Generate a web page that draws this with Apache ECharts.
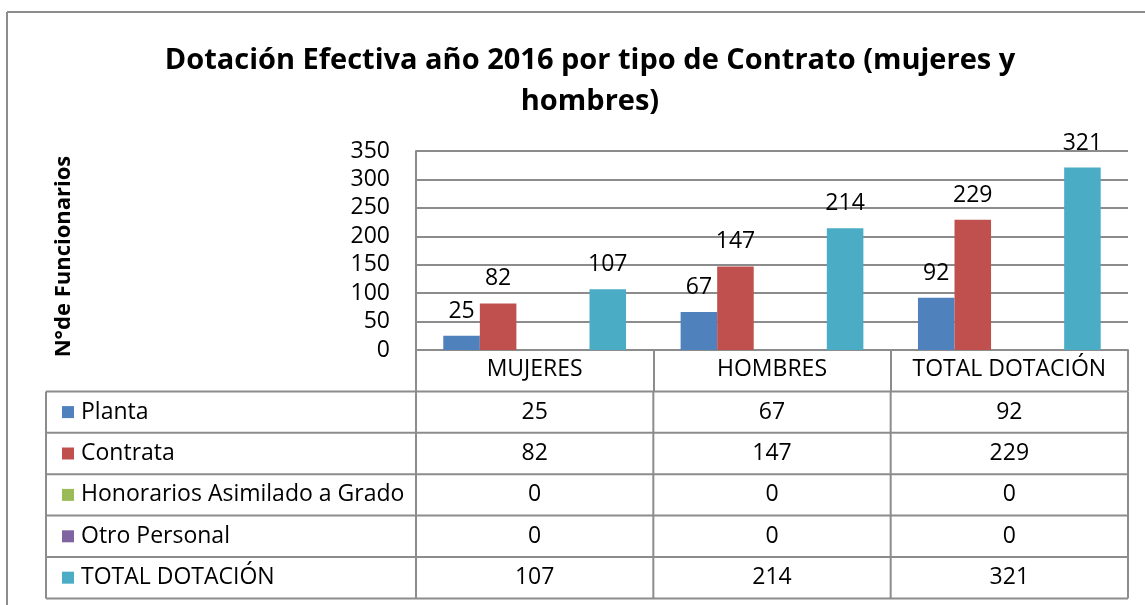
<!DOCTYPE html>
<html>
<head>
<meta charset="utf-8">
<script src="https://cdn.jsdelivr.net/npm/echarts@6/dist/echarts.min.js"></script>
<style>
  html, body { margin: 0; padding: 0; background: #fff; }
  #chart { width: 1145px; height: 605px; }
</style>
</head>
<body>
<div id="chart"></div>
<script>
const categories = ["MUJERES", "HOMBRES", "TOTAL DOTACIÓN"];
const seriesNames = ["Planta", "Contrata", "Honorarios Asimilado a Grado", "Otro Personal", "TOTAL DOTACIÓN"];
const planta = [25, 67, 92];
const contrata = [82, 147, 229];
const honorarios = [0, 0, 0];
const otroPersonal = [0, 0, 0];
const totalDotacion = [107, 214, 321];
const yMin = 0, yMax = 350, yStep = 50;

const seriesValues = [planta, contrata, honorarios, otroPersonal, totalDotacion];
const colors = ["#4F81BD", "#C0504D", "#9BBB59", "#8064A2", "#4BACC6"];

const FONT = "'Open Sans', 'Liberation Sans', sans-serif";
const GRAY = "#8c8c8c";
const TXT = 23;

// layout of the plot + data table under it
const gridLeft = 416, gridRight = 17, gridTop = 151, gridBottom = 255;
const tableLeft = 46, rowH = 41.4;

const chart = echarts.init(document.getElementById("chart"));

chart.setOption({
  animation: false,
  color: colors,
  title: {
    text: "Dotación Efectiva año 2016 por tipo de Contrato (mujeres y\nhombres)",
    left: 585,
    top: 35,
    textAlign: "center",
    textStyle: { fontFamily: FONT, fontWeight: "bold", fontSize: 29, lineHeight: 41, color: "#000" }
  },
  grid: { left: gridLeft, right: gridRight, top: gridTop, bottom: gridBottom },
  xAxis: {
    type: "category",
    data: categories,
    axisLine: { lineStyle: { color: GRAY, width: 2 } },
    axisTick: { show: true, interval: 0, length: 41, lineStyle: { color: GRAY, width: 2 } },
    axisLabel: { interval: 0, fontFamily: FONT, fontSize: TXT, color: "#000", margin: 8 }
  },
  yAxis: {
    type: "value",
    min: yMin,
    max: yMax,
    interval: yStep,
    name: "N°de Funcionarios",
    nameLocation: "middle",
    nameRotate: 90,
    nameGap: 341,
    nameTextStyle: { fontFamily: FONT, fontWeight: "bold", fontSize: 22, color: "#000", padding: [0, 12, 0, 0] },
    axisLine: { show: true, lineStyle: { color: GRAY, width: 2 } },
    axisTick: { show: false },
    splitLine: { lineStyle: { color: GRAY, width: 2 } },
    axisLabel: { fontFamily: FONT, fontSize: TXT, color: "#000", margin: 26 }
  },
  series: seriesNames.map((name, i) => ({
    name: name,
    type: "bar",
    data: seriesValues[i],
    barGap: "0%",
    barCategoryGap: "23%",
    itemStyle: { color: colors[i] },
    label: {
      show: true,
      position: "top",
      distance: 13,
      fontFamily: FONT,
      fontSize: TXT,
      color: "#000",
      formatter: p => (p.value === 0 ? "" : String(p.value))
    }
  }))
});

// data table drawn under the x axis, columns aligned with the category axis
function buildTable() {
  const top = chart.convertToPixel({ yAxisIndex: 0 }, yMin) + rowH;
  const right = chart.getWidth() - gridRight;
  const step = (right - gridLeft) / categories.length;
  const centers = categories.map((c, j) => chart.convertToPixel({ xAxisIndex: 0 }, j));
  const bottom = top + rowH * seriesNames.length;
  const els = [];
  const line = (x1, y1, x2, y2) => ({
    type: "line", silent: true,
    shape: { x1, y1, x2, y2 },
    style: { stroke: GRAY, lineWidth: 2 }
  });

  // outer frame of the whole chart
  els.push(line(7, 12, chart.getWidth(), 12));
  els.push(line(7, 12, 7, chart.getHeight()));

  for (let r = 0; r <= seriesNames.length; r++) {
    els.push(line(tableLeft, top + r * rowH, right, top + r * rowH));
  }
  els.push(line(tableLeft, top, tableLeft, bottom));
  for (let j = 0; j <= categories.length; j++) {
    els.push(line(gridLeft + j * step, top, gridLeft + j * step, bottom));
  }

  seriesNames.forEach((name, r) => {
    const cy = top + r * rowH + rowH / 2;
    els.push({
      type: "rect", silent: true,
      shape: { x: 62, y: cy - 6, width: 12, height: 12 },
      style: { fill: colors[r] }
    });
    els.push({
      type: "text", silent: true,
      x: 81, y: cy,
      style: { text: name, font: TXT + "px " + FONT, fill: "#000", textAlign: "left", textVerticalAlign: "middle" }
    });
    seriesValues[r].forEach((v, j) => {
      els.push({
        type: "text", silent: true,
        x: centers[j], y: cy,
        style: { text: String(v), font: TXT + "px " + FONT, fill: "#000", textAlign: "center", textVerticalAlign: "middle" }
      });
    });
  });

  chart.setOption({ graphic: { elements: els } });
}

buildTable();
</script>
</body>
</html>
